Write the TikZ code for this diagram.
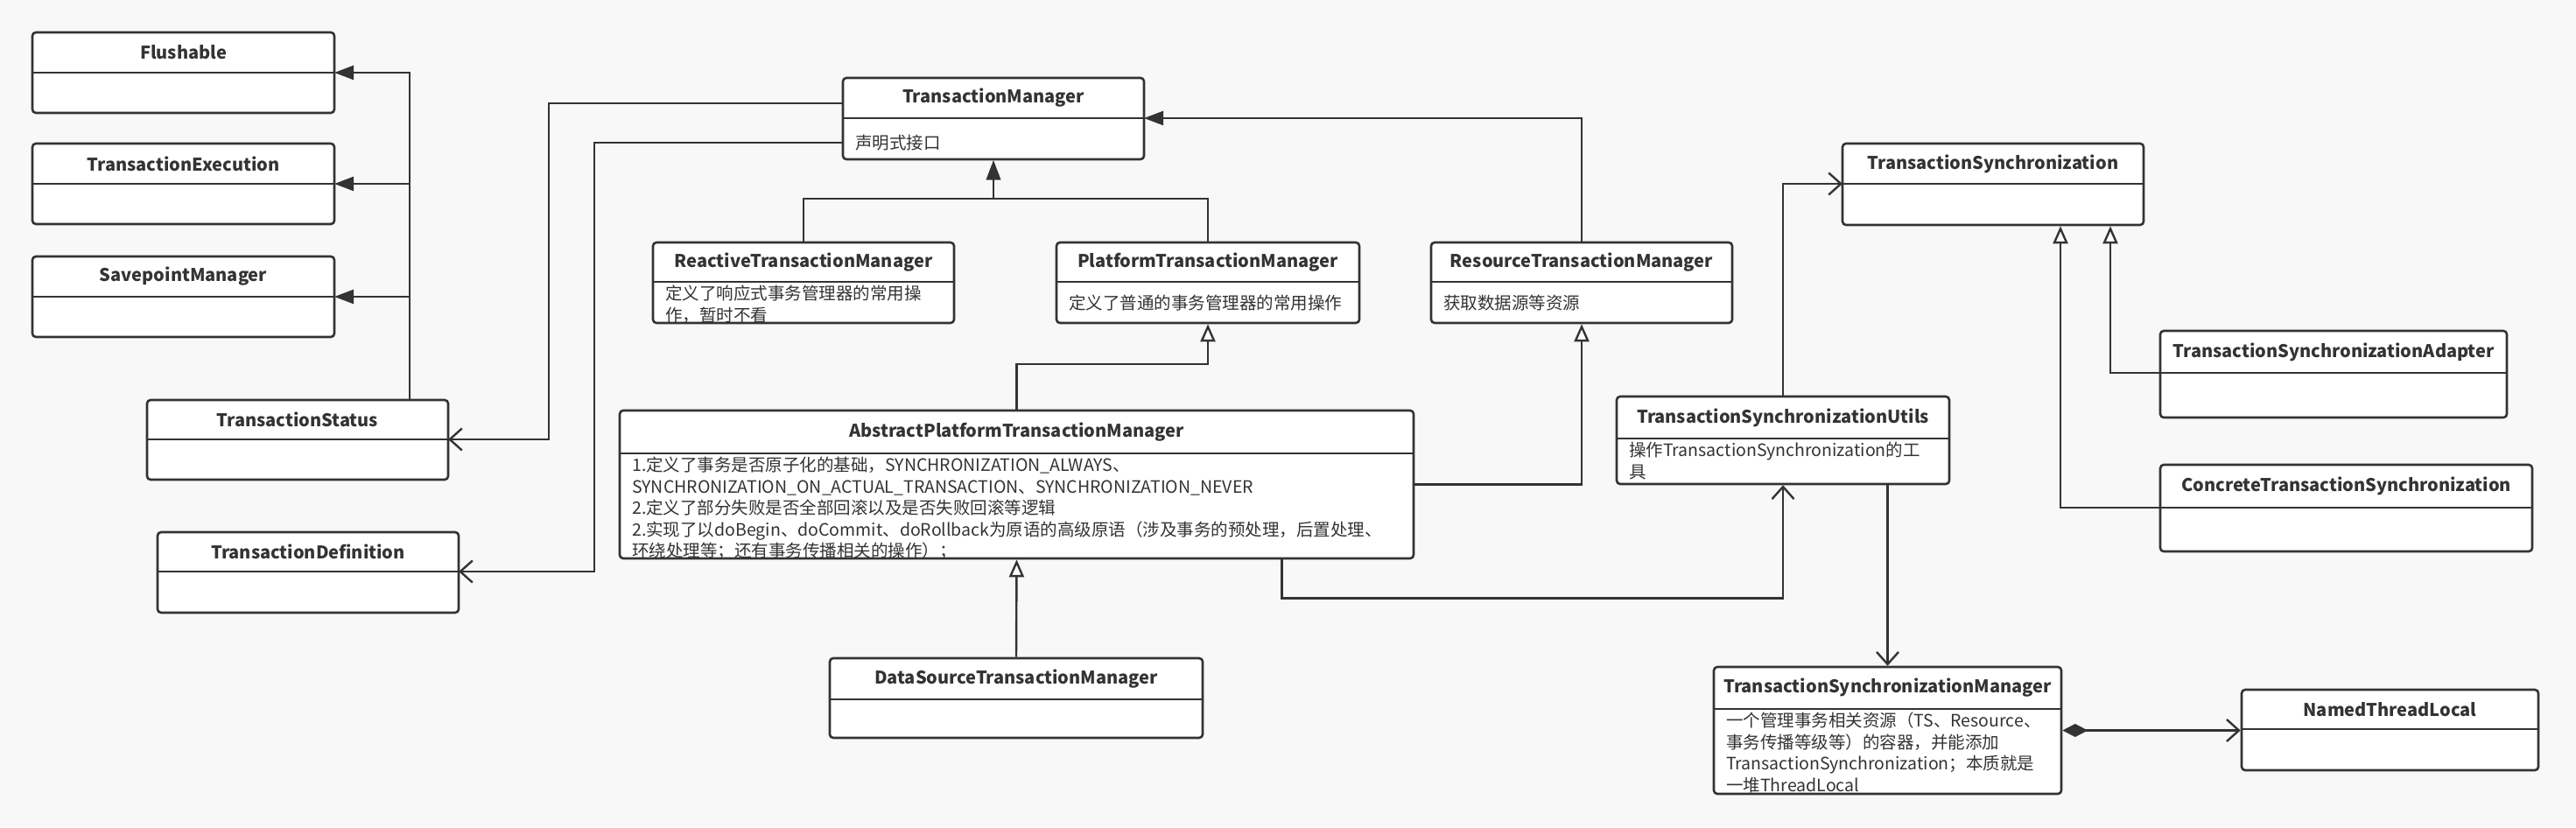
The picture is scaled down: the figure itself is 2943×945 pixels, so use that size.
\documentclass[tikz,border=0pt]{standalone}
\usepackage{fontspec}
\setmainfont{Noto Sans CJK SC}
\usepackage{tikz}
\usetikzlibrary{positioning, arrows.meta, calc}
\definecolor{umlline}{HTML}{333333}
\definecolor{canvasgrey}{HTML}{F8F8F8}

\tikzset{
  classbox/.style={draw=umlline, fill=white, line width=2.6pt, rounded corners=4pt, inner sep=0pt},
  divider/.style={draw=umlline, line width=2.6pt},
  headtext/.style={font=\fontsize{20}{24}\selectfont\bfseries, text=umlline, inner sep=0pt},
  bodytext/.style={font=\fontsize{19.5}{24.5}\selectfont, text=umlline, align=left, inner xsep=14pt, inner ysep=4pt},
  conn/.style={draw=umlline, line width=2.4pt},
  implarrow/.style={conn, -{Triangle[length=22pt, width=16pt]}},
  extarrow/.style={conn, -{Triangle[open, length=20pt, width=17pt, fill=white]}},
  assoc/.style={conn, -{Straight Barb[length=14pt, width=25pt]}},
  compo/.style={conn, {Diamond[length=29pt, width=15pt]}-{Straight Barb[length=14pt, width=25pt]}},
}

% name, left, top, right, bottom, divider, title
\newcommand{\umlclass}[7]{%
  \pgfmathsetmacro{\boxw}{#4-#2}%
  \pgfmathsetmacro{\boxh}{#5-#3}%
  \node[classbox, minimum width=\boxw pt, minimum height=\boxh pt] (#1) at ({(#2+#4)/2},{(#3+#5)/2}) {};
  \coordinate (#1-w) at (#2,#6);
  \coordinate (#1-e) at (#4,#6);
  \draw[divider] (#1-w) -- (#1-e);
  \node[headtext] (#1-t) at ({(#2+#4)/2},{(#3+#6)/2}) {#7};
}

\begin{document}
\begin{tikzpicture}[x=1pt, y=-1pt]
  \fill[canvasgrey] (0,0) rectangle (2943,945);
  \useasboundingbox (0,0) rectangle (2943,945);

  % left column
  \umlclass{flush}{37}{37}{382}{129}{83}{Flushable}
  \umlclass{exec}{37}{164}{382}{256}{210}{TransactionExecution}
  \umlclass{save}{37}{293}{382}{385}{339}{SavepointManager}
  \umlclass{status}{168}{457}{512}{548}{502}{TransactionStatus}
  \umlclass{tdef}{180}{608}{524}{700}{653}{TransactionDefinition}

  % managers
  \umlclass{tm}{963}{89}{1307}{182}{135}{TransactionManager}
  \node[bodytext, anchor=west] (tm-b) at (963,163) {声明式接口};
  \umlclass{reactive}{746}{277}{1090}{369}{322}{ReactiveTransactionManager}
  \node[bodytext, anchor=north west] (reactive-b) at (reactive-w) {定义了响应式事务管理器的常用操\\作，暂时不看};
  \umlclass{ptm}{1207}{277}{1553}{369}{322}{PlatformTransactionManager}
  \node[bodytext, anchor=west] (ptm-b) at (1207,346) {定义了普通的事务管理器的常用操作};
  \umlclass{resource}{1635}{277}{1979}{369}{322}{ResourceTransactionManager}
  \node[bodytext, anchor=west] (resource-b) at (1635,346) {获取数据源等资源};
  \umlclass{aptm}{708}{469}{1615}{638}{518}{AbstractPlatformTransactionManager}
  \node[bodytext, anchor=north west] (aptm-b) at (aptm-w)
    {1.定义了事务是否原子化的基础，SYNCHRONIZATION\_ALWAYS、\\
     SYNCHRONIZATION\_ON\_ACTUAL\_TRANSACTION、SYNCHRONIZATION\_NEVER\\
     2.定义了部分失败是否全部回滚以及是否失败回滚等逻辑\\
     2.实现了以doBegin、doCommit、doRollback为原语的高级原语（涉及事务的预处理，后置处理、\\
     环绕处理等；还有事务传播相关的操作）；};
  \umlclass{ds}{948}{752}{1374}{843}{799}{DataSourceTransactionManager}

  % synchronization
  \umlclass{tsync}{2105}{164}{2449}{257}{210}{TransactionSynchronization}
  \umlclass{adapter}{2468}{378}{2864}{477}{426}{TransactionSynchronizationAdapter}
  \umlclass{concrete}{2468}{531}{2893}{630}{580}{ConcreteTransactionSynchronization}
  \umlclass{utils}{1847}{453}{2227}{553}{501}{TransactionSynchronizationUtils}
  \node[bodytext, anchor=north west] (utils-b) at (utils-w) {操作TransactionSynchronization的工\\具};
  \umlclass{tsm}{1958}{762}{2355}{907}{810}{TransactionSynchronizationManager}
  \node[bodytext, anchor=north west] (tsm-b) at (tsm-w)
    {一个管理事务相关资源（TS、Resource、\\事务传播等级等）的容器，并能添加\\TransactionSynchronization；本质就是\\一堆ThreadLocal};
  \umlclass{ntl}{2561}{788}{2900}{880}{833}{NamedThreadLocal}

  % connectors
  \foreach \iface in {flush, exec, save}
    \draw[implarrow] ([xshift=128pt]status.north) |- (\iface-e);
  \draw[assoc] ([yshift=-30pt]tm.north west) -- ++(-335,0) |- (status-e);
  \draw[assoc] ([yshift=-75pt]tm.north west) -- ++(-283,0) |- (tdef-e);
  \draw[implarrow] (reactive.north) -- ++(0,-49) -| (tm.south);
  \draw[implarrow] (ptm.north) -- ++(0,-49) -| (tm.south);
  \draw[implarrow] (resource.north) |- (tm-e);
  \draw[extarrow] (aptm.north) -- ++(0,-52) -| (ptm.south);
  \draw[extarrow] (aptm.east) -| (resource.south);
  \draw[extarrow] (ds.north) -- (aptm.south);
  \draw[assoc] ([xshift=303pt]aptm.south) -- ++(0,44) -| (utils.south);
  \draw[assoc] (utils.north) |- (tsync-w);
  \draw[assoc] (utils.south -| tsm.north) -- (tsm.north);
  \draw[extarrow] (adapter-w) -| ([xshift=134pt]tsync.south);
  \draw[extarrow] (concrete-w) -| ([xshift=77pt]tsync.south);
  \draw[compo] (tsm.east) -- (tsm.east -| ntl.west);
\end{tikzpicture}
\end{document}
